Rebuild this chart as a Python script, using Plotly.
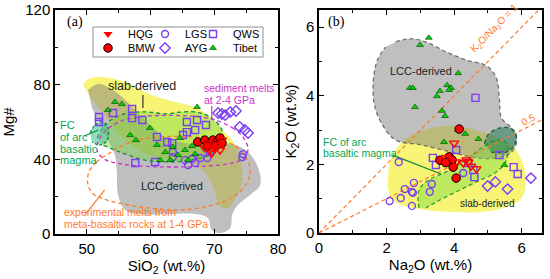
import plotly.graph_objects as go

# ---------------- Panel (a): SiO2 (wt.%) vs Mg# ----------------
tibet_a_sio2 = [53.3, 54.4, 55.5, 56.8, 57.7, 59.9, 61.0, 62.3, 63.1, 63.5, 64.6, 65.4, 66.5, 67.0, 67.3, 61.5, 64.3, 65.9]
tibet_a_mg = [66.4, 70.7, 69.6, 53.0, 50.3, 56.8, 47.7, 43.9, 39.6, 46.6, 51.4, 45.0, 47.1, 42.8, 68.0, 39.6, 42.3, 39.6]

qws_a_sio2 = [51.9, 51.9, 54.1, 57.1, 57.1, 58.7, 61.0, 62.6, 63.4, 65.1, 65.7, 67.3, 68.7, 67.0, 65.7, 57.6, 60.7]
qws_a_mg = [62.7, 60.0, 64.8, 67.0, 62.1, 61.1, 52.0, 49.3, 48.7, 53.0, 60.0, 61.1, 58.4, 55.7, 54.6, 38.0, 38.6]

lgs_a_sio2 = [63.5, 63.5, 65.4, 66.5, 65.9, 67.8, 68.9, 69.3, 74.4, 74.5, 67.0]
lgs_a_mg = [43.9, 41.2, 39.6, 40.2, 37.0, 40.7, 40.7, 43.9, 41.2, 42.8, 38.0]

ayg_a_sio2 = [70.6, 71.7, 72.5, 73.4, 74.0, 74.8, 75.3, 71.2]
ayg_a_mg = [64.8, 63.7, 65.3, 65.9, 57.3, 55.7, 54.1, 64.3]

bmw_a_sio2 = [67.4, 68.5, 69.3, 69.8, 70.4, 70.9, 68.9, 70.1, 71.2]
bmw_a_mg = [49.3, 50.3, 48.7, 50.3, 49.3, 51.4, 47.1, 47.1, 48.7]

hqg_a_sio2 = [68.5, 69.3, 70.1, 70.6, 70.9, 69.6, 71.2, 69.0]
hqg_a_mg = [46.1, 45.0, 46.1, 47.7, 45.0, 43.4, 50.3, 48.7]

# field outlines, panel (a)
slab_a_sio2 = [49.4, 50.2, 52.1, 54.4, 56.8, 59.1, 61.5, 64.6, 67.3, 69.3, 70.9, 72.8, 74.0, 74.4, 73.4, 72.2, 70.9, 70.0, 68.5, 66.2, 62.3, 58.3, 55.2, 52.8, 50.8]
slab_a_mg = [79.8, 83.0, 84.1, 83.0, 80.3, 76.1, 72.8, 70.2, 67.5, 62.7, 56.8, 50.3, 40.7, 28.9, 19.8, 13.9, 15.0, 23.6, 33.2, 38.6, 39.6, 45.0, 53.0, 63.7, 71.8]

lcc_a_sio2 = [50.2, 51.75, 53.6, 55.5, 57.6, 59.9, 62.3, 65.4, 69.3, 72.8, 75.3, 76.9, 77.2, 75.6, 73.7, 72.8, 72.5, 70.9, 69.6, 69.0, 67.0, 63.05, 58.3, 56.0, 54.9, 54.7, 54.4, 53.3, 52.1, 50.8]
lcc_a_mg = [77.1, 80.3, 78.2, 73.4, 66.4, 58.4, 52.0, 48.7, 47.7, 48.2, 43.9, 35.4, 26.2, 20.9, 15.5, 10.2, 3.2, 0.5, 2.1, 8.6, 10.7, 10.7, 10.7, 12.9, 20.9, 34.3, 42.3, 50.3, 58.4, 67.5]

fc_a_sio2 = [51.6, 52.85, 54.9, 57.6, 59.9, 62.3, 64.6, 67.3, 69.6, 71.2, 71.2, 69.3, 66.2, 63.05, 59.1, 55.2, 52.5]
fc_a_mg = [51.4, 58.4, 63.2, 65.3, 65.3, 64.3, 65.3, 65.3, 62.1, 55.7, 47.7, 42.3, 39.6, 38.6, 39.6, 43.9, 47.7]

fcsmall_a_sio2 = [50.5, 51.3, 52.5, 53.3, 53.2, 52.1, 50.8]
fcsmall_a_mg = [54.1, 58.4, 60.0, 56.8, 50.3, 47.7, 49.3]

sed_a_sio2 = [70.1, 72.8, 74.6, 75.3, 74.6, 72.5, 68.5, 64.0, 59.5, 55.5, 52.8, 51.6, 52.3, 54.7, 57.7, 61.5, 65.5, 68.5, 70.1]
sed_a_mg = [61.1, 57.0, 51.5, 45.5, 40.5, 37.8, 36.3, 35.9, 36.2, 37.5, 40.0, 45.0, 53.0, 59.5, 62.5, 63.5, 63.3, 62.3, 61.1]

exp_a_sio2 = [53.6, 51.5, 50.3, 50.2, 51.0, 52.6, 55.2, 59.9, 65.1, 69.8, 72.9, 75.1, 75.6, 74.0, 72.0, 67.8, 63.1, 58.3, 55.2, 53.6]
exp_a_mg = [43.4, 38.5, 33.0, 26.0, 21.5, 18.8, 16.4, 13.9, 12.9, 15.6, 19.8, 27.3, 35.9, 45.0, 49.3, 51.6, 52.3, 50.6, 46.8, 43.4]

# ---------------- Panel (b): Na2O vs K2O ----------------
tibet_b_na = [3.25, 2.99, 4.12, 2.69, 2.78, 3.79, 3.91, 3.58, 3.49, 3.85, 2.84, 3.64, 3.73, 3.70, 4.33, 4.72, 5.49, 4.12]
tibet_b_k = [5.69, 5.48, 4.66, 4.23, 4.23, 4.31, 4.23, 4.14, 3.99, 4.17, 3.67, 3.56, 3.41, 2.65, 2.89, 2.74, 1.98, 3.00]

qws_b_na = [4.63, 4.06, 3.37, 3.46, 4.42, 4.57, 4.60, 5.34, 5.76, 5.88]
qws_b_k = [3.94, 2.42, 2.19, 1.98, 2.04, 1.84, 1.63, 2.27, 1.92, 1.72]

lgs_b_na = [2.36, 2.81, 2.54, 2.75, 2.78, 3.28, 3.34, 2.42, 2.09, 2.75, 4.27]
lgs_b_k = [2.07, 1.46, 1.28, 1.20, 1.17, 1.20, 1.43, 1.02, 0.93, 0.79, 1.75]

ayg_b_na = [4.99, 5.22, 5.58, 6.27]
ayg_b_k = [1.37, 1.49, 1.28, 1.60]

bmw_b_na = [4.15, 3.58, 3.85, 3.94, 3.97, 4.06, 3.75]
bmw_b_k = [3.03, 2.12, 2.22, 2.13, 1.92, 1.60, 2.05]

hqg_b_na = [4.00, 4.06, 4.36, 4.42, 4.27, 4.66, 3.76, 4.50]
hqg_b_k = [2.62, 2.07, 2.13, 2.07, 2.04, 1.87, 2.20, 1.95]

lcc_b_na = [2.27, 2.72, 3.16, 3.76, 4.36, 4.96, 5.25, 5.34, 5.40, 5.70, 5.85, 5.70, 5.25, 4.66, 3.91, 3.01, 2.27, 1.88, 1.64, 1.61, 1.73, 1.97]
lcc_b_k = [5.57, 5.66, 5.57, 5.28, 5.04, 4.87, 4.52, 3.88, 3.35, 3.06, 2.71, 2.36, 2.19, 2.19, 2.36, 2.57, 2.71, 3.15, 3.73, 4.46, 5.04, 5.42]

slab_b_na = [2.03, 2.12, 2.42, 2.87, 3.46, 4.06, 4.66, 5.25, 5.70, 6.00, 6.12, 6.00, 5.55, 4.81, 3.91, 3.16, 2.42, 2.09]
slab_b_k = [1.40, 2.13, 2.62, 2.92, 3.09, 3.12, 3.00, 2.80, 2.57, 2.13, 1.55, 1.02, 0.76, 0.61, 0.61, 0.67, 0.82, 1.05]

fc_b_na = [2.96, 2.96, 3.25, 3.76, 4.36, 4.81, 5.25, 5.55, 5.55, 5.25, 4.66, 4.06, 3.46, 3.16]
fc_b_k = [0.73, 1.25, 1.55, 1.78, 2.13, 2.48, 2.71, 2.62, 2.13, 1.78, 1.49, 1.20, 0.90, 0.73]

dark_b_na = [4.90, 5.00, 5.34, 5.64, 5.82, 5.79, 5.55, 5.10]
dark_b_k = [2.60, 2.86, 3.06, 3.06, 2.92, 2.57, 2.36, 2.36]

ratio_na = [0, 6.6]
ratio1_k = [0, 6.6]
ratio05_k = [0, 3.3]

PURPLE = '#7a3ff0'
RED = '#ff0000'
GREEN_T = '#00d400'
FCGREEN = '#00a651'
ORANGE = '#ff7a2a'
MAGENTA = '#cc33cc'
FONT = 'Arial, Liberation Sans, sans-serif'

fig = go.Figure()

def region(x, y, fill, xa, ya, line=None, dash=None):
    fig.add_trace(go.Scatter(
        x=x, y=y, mode='lines', fill='toself', fillcolor=fill,
        line=dict(color=line if line else 'rgba(0,0,0,0)', width=1.3 if line else 0,
                  dash=dash if dash else 'solid', shape='spline', smoothing=1.0),
        xaxis=xa, yaxis=ya, showlegend=False, hoverinfo='skip'))

def outline(x, y, color, xa, ya, spline=True, width=1.3):
    fig.add_trace(go.Scatter(
        x=x, y=y, mode='lines',
        line=dict(color=color, width=width, dash='4px,3px', shape='spline' if spline else 'linear'),
        xaxis=xa, yaxis=ya, showlegend=False, hoverinfo='skip'))

# panel (a) fields
region(slab_a_sio2, slab_a_mg, 'rgba(245,240,60,0.7)', 'x', 'y')
region(lcc_a_sio2, lcc_a_mg, 'rgba(128,128,128,0.5)', 'x', 'y')
region(fc_a_sio2, fc_a_mg, 'rgba(110,215,60,0.42)', 'x', 'y', line='#138a3c', dash='4px,3px')
region(fcsmall_a_sio2, fcsmall_a_mg, 'rgba(60,190,140,0.55)', 'x', 'y', line='#138a3c', dash='3px,2px')
outline(sed_a_sio2, sed_a_mg, MAGENTA, 'x', 'y')
outline(exp_a_sio2, exp_a_mg, ORANGE, 'x', 'y')

# panel (b) fields
region(slab_b_na, slab_b_k, 'rgba(245,240,60,0.7)', 'x2', 'y2')
region(lcc_b_na, lcc_b_k, 'rgba(128,128,128,0.5)', 'x2', 'y2', line='#707070', dash='4px,3px')
region(fc_b_na, fc_b_k, 'rgba(110,215,60,0.42)', 'x2', 'y2', line='#2aa02a', dash='4px,3px')
region(dark_b_na, dark_b_k, 'rgba(20,120,80,0.5)', 'x2', 'y2', line='#106040', dash='4px,3px')
outline(ratio_na, ratio1_k, ORANGE, 'x2', 'y2', spline=False, width=1.2)
outline(ratio_na, ratio05_k, ORANGE, 'x2', 'y2', spline=False, width=1.2)

# leader lines
leaders = [
    ([58.8, 58.8], [74.4, 67.5], '#333333', 'x', 'y'),
    ([69.6, 69.6], [68.6, 62.4], MAGENTA, 'x', 'y'),
    ([49.7, 52.8], [10.2, 23.6], ORANGE, 'x', 'y'),
    ([49.6, 51.8], [52.5, 55.7], '#138a3c', 'x', 'y'),
    ([2.18, 3.61], [2.27, 1.72], '#0a8a3a', 'x2', 'y2'),
]
for lx, ly, c, xa, ya in leaders:
    fig.add_trace(go.Scatter(x=lx, y=ly, mode='lines', line=dict(color=c, width=1.2),
                             xaxis=xa, yaxis=ya, showlegend=False, hoverinfo='skip'))

def pts(x, y, name, symbol, size, color, lcolor, lw, xa, ya, legend=None):
    fig.add_trace(go.Scatter(
        x=x, y=y, mode='markers', name=name,
        marker=dict(symbol=symbol, size=size, color=color, line=dict(color=lcolor, width=lw)),
        xaxis=xa, yaxis=ya, showlegend=legend is not None,
        legend=legend if legend else 'legend', hoverinfo='skip'))

for xa, ya, d in [('x', 'y', 'a'), ('x2', 'y2', 'b')]:
    g = globals()
    kx = 'sio2' if d == 'a' else 'na'
    ky = 'mg' if d == 'a' else 'k'
    first = d == 'a'
    pts(g[f'lgs_{d}_{kx}'], g[f'lgs_{d}_{ky}'], 'LGS', 'circle-open', 7, PURPLE, PURPLE, 1.4, xa, ya,
        legend='legend2' if first else None)
    pts(g[f'qws_{d}_{kx}'], g[f'qws_{d}_{ky}'], 'QWS', 'square-open', 7, PURPLE, PURPLE, 1.4, xa, ya,
        legend='legend3' if first else None)
    pts(g[f'ayg_{d}_{kx}'], g[f'ayg_{d}_{ky}'], 'AYG', 'diamond-open', 8, PURPLE, PURPLE, 1.4, xa, ya,
        legend='legend5' if first else None)
    pts(g[f'tibet_{d}_{kx}'], g[f'tibet_{d}_{ky}'], 'Tibet', 'triangle-up', 6, GREEN_T, '#0a3a0a', 0.6, xa, ya,
        legend='legend6' if first else None)
    pts(g[f'bmw_{d}_{kx}'], g[f'bmw_{d}_{ky}'], 'BMW', 'circle', 8.5, RED, '#000000', 1.0, xa, ya,
        legend='legend4' if first else None)
    pts(g[f'hqg_{d}_{kx}'], g[f'hqg_{d}_{ky}'], 'HQG', 'triangle-down-open', 8, RED, RED, 1.4, xa, ya)

# legend-only HQG entry (filled symbol as in the key)
pts([None], [None], 'HQG', 'triangle-down', 8, RED, RED, 0, 'x', 'y', legend='legend')

W, H = 550, 279
def px_x(p): return p / W
def px_y(p): return 1 - p / H

axis_common = dict(showline=True, linecolor='black', linewidth=1.5, mirror='ticks',
                   ticks='inside', ticklen=5, tickwidth=1.3, tickcolor='black',
                   showgrid=False, zeroline=False, automargin=False,
                   tickfont=dict(family=FONT, size=15, color='black'),
                   title_font=dict(family=FONT, size=15, color='black'))

def leg(xp, yp):
    return dict(orientation='v', x=px_x(xp), y=px_y(yp), xanchor='left', yanchor='middle',
                bgcolor='rgba(0,0,0,0)', borderwidth=0, itemwidth=30,
                font=dict(family=FONT, size=11, color='black'))

fig.update_layout(
    template='none',
    width=W, height=H, margin=dict(l=0, r=0, t=0, b=0, autoexpand=False),
    paper_bgcolor='white', plot_bgcolor='white',
    font=dict(family=FONT, color='black'),
    xaxis=dict(domain=[px_x(55), px_x(278)], range=[45, 80], dtick=10, tick0=50,
               minor=dict(ticks='inside', ticklen=3, dtick=5, tick0=45, tickcolor='black'),
               title=dict(text='SiO<sub>2</sub> (wt.%)', standoff=0), anchor='y', **axis_common),
    yaxis=dict(domain=[px_y(234), px_y(10)], range=[0, 120], dtick=40,
               minor=dict(ticks='inside', ticklen=3, dtick=20, tickcolor='black'),
               title=dict(text='Mg#', standoff=8), anchor='x', **axis_common),
    xaxis2=dict(domain=[px_x(319), px_x(542)], range=[0, 6.6], dtick=2,
                minor=dict(ticks='inside', ticklen=3, dtick=1, tickcolor='black'),
                title=dict(text='Na<sub>2</sub>O (wt.%)', standoff=0), anchor='y2', **axis_common),
    yaxis2=dict(domain=[px_y(233), px_y(10)], range=[0, 6.5], dtick=2,
                minor=dict(ticks='inside', ticklen=3, dtick=1, tickcolor='black'),
                title=dict(text='K<sub>2</sub>O (wt.%)', standoff=6), anchor='x2', **axis_common),
    legend=leg(88, 34), legend2=leg(145, 34), legend3=leg(193, 34),
    legend4=leg(88, 48), legend5=leg(145, 48), legend6=leg(193, 48),
    shapes=[dict(type='rect', xref='paper', yref='paper', x0=px_x(93), x1=px_x(263),
                 y0=px_y(57), y1=px_y(27), line=dict(color='#909090', width=1),
                 fillcolor='white', layer='above')],
)

ann = []
def A(text, x, y, xr, yr, color='#222222', size=10.5, angle=0, xanchor='center', family=FONT):
    ann.append(dict(text=text, x=x, y=y, xref=xr, yref=yr, showarrow=False, textangle=angle,
                    xanchor=xanchor, yanchor='middle',
                    font=dict(family=family, size=size, color=color)))

SERIF = 'Liberation Serif, Times New Roman, serif'
A('(a)', 46.5, 113.5, 'x', 'y', color='black', size=14, xanchor='left', family=SERIF)
A('(b)', 0.22, 6.14, 'x2', 'y2', color='black', size=14, xanchor='left', family=SERIF)
A('slab-derived', 58.7, 79.3, 'x', 'y', size=12.5)
A('LCC-derived', 63.4, 25.7, 'x', 'y', size=11)
A('sediment melts', 68.1, 78.2, 'x', 'y', color=MAGENTA, xanchor='left')
A('at 2-4 GPa', 68.1, 71.8, 'x', 'y', color=MAGENTA, xanchor='left')
A('experimental melts from', 46.1, 11.8, 'x', 'y', color=ORANGE, xanchor='left')
A('meta-basaltic rocks at 1-4 GPa', 46.1, 5.4, 'x', 'y', color=ORANGE, xanchor='left')
A('FC', 45.4, 58.4, 'x', 'y', color=FCGREEN, size=11, xanchor='left')
A('of arc', 45.4, 52.0, 'x', 'y', color=FCGREEN, size=11, xanchor='left')
A('basaltic', 45.4, 45.8, 'x', 'y', color=FCGREEN, size=11, xanchor='left')
A('magma', 45.4, 39.6, 'x', 'y', color=FCGREEN, size=11, xanchor='left')
A('LCC-derived', 3.01, 4.72, 'x2', 'y2', size=11)
A('slab-derived', 4.96, 0.87, 'x2', 'y2', size=10)
A('FC of arc', 0.05, 2.64, 'x2', 'y2', color=FCGREEN, xanchor='left')
A('basaltic magma', 0.05, 2.32, 'x2', 'y2', color=FCGREEN, xanchor='left')
A('K<sub>2</sub>O/Na<sub>2</sub>O = 1', 5.2, 5.97, 'x2', 'y2', color=ORANGE, size=10, angle=-45.7)
A('0.5', 6.2, 3.32, 'x2', 'y2', color=ORANGE, size=10, angle=-27)
fig.update_layout(annotations=ann)

fig.write_html('out.html', config={'displayModeBar': False},
               post_script="document.body.style.margin='0';document.body.style.overflow='hidden';")
